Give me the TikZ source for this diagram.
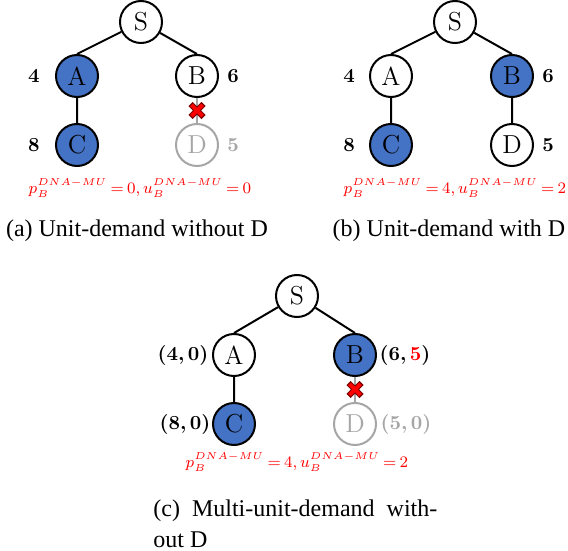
\documentclass[tikz,border=0pt]{standalone}
\usepackage{amsmath,amssymb}
\usepackage{fontspec}
\newfontfamily\capfont{Liberation Serif}
\usepackage{tikz}
\usetikzlibrary{positioning}
\usepackage{xcolor}
\definecolor{nodeblue}{HTML}{4472C4}
\definecolor{cutgray}{HTML}{A6A6A6}
\definecolor{markred}{HTML}{FF0000}
\definecolor{markdark}{HTML}{7A0000}
\DeclareMathSizes{8}{8}{5.2}{4}

% red cross on a removed edge
\newcommand{\cutmark}[1]{%
  \draw[shift={(#1)}, line width=3pt, markdark] (-6.5,-6.5) -- (6.5,6.5) (-6.5,6.5) -- (6.5,-6.5);
  \draw[shift={(#1)}, line width=1.8pt, markred] (-5.5,-5.5) -- (5.5,5.5) (-5.5,5.5) -- (5.5,-5.5);}
% price line under each tree
\newcommand{\pricetxt}[2]{$\thickmuskip=3.5mu\relax p_B^{DNA-MU} = #1, u_B^{DNA-MU} = #2$}

\begin{document}
\begin{tikzpicture}[x=0.5pt, y=-0.5pt,
    vert/.style={circle, draw, line width=1pt, minimum size=21pt, inner sep=0pt,
      font=\fontsize{13}{15}\selectfont},
    sel/.style={vert, fill=nodeblue},
    gone/.style={vert, draw=cutgray, text=cutgray},
    tline/.style={line width=1pt},
    wt/.style={font=\fontsize{10}{12}\selectfont\bfseries, inner sep=0pt},
    price/.style={text=markred, font=\fontsize{8}{10}\selectfont, anchor=base, inner sep=0pt},
    capt/.style={font=\capfont\fontsize{12}{15.5}\selectfont, anchor=base, inner sep=0pt}]
  \useasboundingbox (0,0) rectangle (568,551);

  % (a) unit-demand without D
  \node[vert] (Sa) at (141,22) {S};
  \node[sel] (Aa) at (77,76) {A};
  \node[vert] (Ba) at (197,76) {B};
  \node[sel] (Ca) at (77,145) {C};
  \node[gone] (Da) at (197,145) {D};
  \draw[tline] (Sa) -- (Aa.north) (Sa) -- (Ba.north) (Aa) -- (Ca);
  \draw[tline, cutgray] (Ba) -- coordinate (xa) (Da);
  \cutmark{xa}
  \node[wt] (wAa) at (34,76) {4};
  \node[wt] (wBa) at (233,76) {6};
  \node[wt] (wCa) at (34,145) {8};
  \node[wt, text=cutgray] (wDa) at (233,145) {5};
  \node[price] (pa) at (140,193) {\pricetxt{0}{0}};
  \node[capt] (ca) at (137,236) {(a) Unit-demand without D};

  % (b) unit-demand with D
  \node[vert] (Sb) at (455,22) {S};
  \node[vert] (Ab) at (391,76) {A};
  \node[sel] (Bb) at (512,76) {B};
  \node[sel] (Cb) at (391,145) {C};
  \node[vert] (Db) at (512,145) {D};
  \draw[tline] (Sb) -- (Ab.north) (Sb) -- (Bb.north) (Ab) -- (Cb) (Bb) -- (Db);
  \node[wt] (wAb) at (349,76) {4};
  \node[wt] (wBb) at (548,76) {6};
  \node[wt] (wCb) at (349,145) {8};
  \node[wt] (wDb) at (548,145) {5};
  \node[price] (pb) at (455,193) {\pricetxt{4}{2}};
  \node[capt] (cb) at (449,236) {(b) Unit-demand with D};

  % (c) multi-unit-demand without D
  \node[vert] (Sc) at (297,296) {S};
  \node[vert] (Ac) at (234,355) {A};
  \node[sel] (Bc) at (355,355) {B};
  \node[sel] (Cc) at (234,424) {C};
  \node[gone] (Dc) at (355,424) {D};
  \draw[tline] (Sc) -- (Ac.north) (Sc) -- (Bc.north) (Ac) -- (Cc);
  \draw[tline, cutgray] (Bc) -- coordinate (xc) (Dc);
  \cutmark{xc}
  \node[wt] (wAc) at (183,355) {(4,\,0)};
  \node[wt] (wBc) at (405,355) {(6,\,{\color{markred}5})};
  \node[wt] (wCc) at (185,424) {(8,\,0)};
  \node[wt, text=cutgray] (wDc) at (406,424) {(5,\,0)};
  \node[price] (pc) at (297,467) {\pricetxt{4}{2}};
  \node[capt, anchor=base west, align=left] (cc) at (153,547)
    {(c)\hspace{6pt}Multi-unit-demand\hspace{6pt}with-\\out D};
\end{tikzpicture}
\end{document}
